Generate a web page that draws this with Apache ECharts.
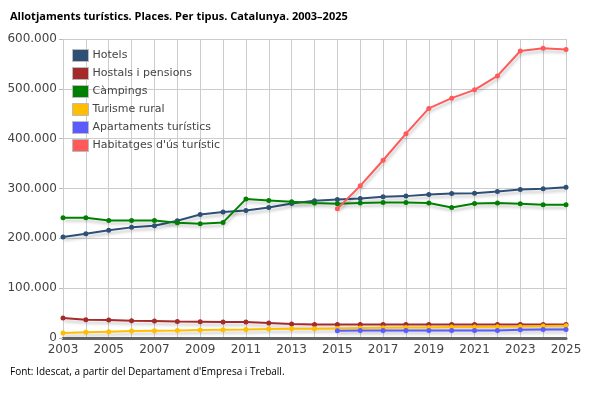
<!DOCTYPE html>
<html lang="ca">
<head>
<meta charset="UTF-8">
<title>Allotjaments turístics</title>
<script src="https://cdn.jsdelivr.net/npm/echarts@6/dist/echarts.min.js"></script>
<style>
  html, body { margin: 0; padding: 0; background: #fff; }
  #chart { width: 600px; height: 400px; }
</style>
</head>
<body>
<div id="chart"></div>
<script>
var years = ['2003','2004','2005','2006','2007','2008','2009','2010','2011','2012','2013','2014',
             '2015','2016','2017','2018','2019','2020','2021','2022','2023','2024','2025'];

var hotels = [202700, 209300, 216000, 222000, 225300, 235300, 248000, 252700, 256000, 262000, 270000, 275300,
              278000, 280000, 283300, 284700, 288000, 290000, 290700, 294000, 298000, 299300, 302700];
var hostals = [40000, 36700, 36000, 34700, 34000, 33300, 32700, 32000, 32000, 30000, 28000, 27300,
               27000, 27000, 27000, 27000, 27000, 27000, 27000, 27000, 27000, 27300, 27300];
var campings = [241300, 241300, 236000, 236000, 236000, 231300, 229300, 232000, 278700, 276000, 273300, 270700,
                269300, 270700, 272000, 272000, 270700, 262000, 270000, 270700, 269300, 267300, 267300];
var rural = [10000, 11300, 12700, 14000, 14700, 15300, 16000, 16700, 17300, 18000, 18700, 18700,
             19300, 20000, 20700, 21300, 21300, 22000, 22000, 22700, 23300, 24000, 24700];
var apartaments = [null, null, null, null, null, null, null, null, null, null, null, null,
                   14700, 15300, 15300, 15300, 15300, 15300, 15300, 15300, 16700, 17300, 17300];
var habitatges = [null, null, null, null, null, null, null, null, null, null, null, null,
                  259300, 305300, 356700, 410000, 460700, 481300, 498000, 526000, 576000, 581300, 578700];

var names = ['Hotels', 'Hostals i pensions', 'Càmpings', 'Turisme rural', 'Apartaments turístics', "Habitatges d'ús turístic"];
var colors = ['#2e5077', '#a52a2a', '#008000', '#ffbf00', '#5b5bff', '#ff5a5a'];
var values = [hotels, hostals, campings, rural, apartaments, habitatges];

var chart = echarts.init(document.getElementById('chart'));

function fmt(v) {
    return String(v).replace(/\B(?=(\d{3})+(?!\d))/g, '.');
}

var series = values.map(function (d, i) {
    return {
        name: names[i],
        type: 'line',
        data: d,
        symbol: 'circle',
        symbolSize: 5,
        showAllSymbol: true,
        color: colors[i],
        lineStyle: {
            width: 2,
            color: colors[i],
            shadowColor: 'rgba(0,0,0,0.22)',
            shadowBlur: 3,
            shadowOffsetX: 1,
            shadowOffsetY: 3
        },
        itemStyle: { color: colors[i] },
        animation: false
    };
});

chart.setOption({
    color: colors,
    title: {
        text: 'Allotjaments turístics. Places. Per tipus. Catalunya. 2003–2025',
        left: 5,
        top: 6,
        textStyle: { fontFamily: 'Open Sans', fontSize: 11, fontWeight: 'bold', color: '#000' }
    },
    graphic: [{
        type: 'text',
        left: 10,
        top: 367,
        style: {
            text: "Font: Idescat, a partir del Departament d'Empresa i Treball.",
            font: '10px "Open Sans"',
            fill: '#000'
        }
    }],
    legend: {
        orient: 'vertical',
        left: 67,
        top: 44,
        itemWidth: 16,
        itemHeight: 12,
        itemGap: 5,
        icon: 'rect',
        itemStyle: { borderColor: '#bbb', borderWidth: 1 },
        textStyle: { fontFamily: 'DejaVu Sans', fontSize: 11, color: '#444', padding: [0, 0, 0, -1] },
        data: names
    },
    grid: { left: 63, right: 34, top: 39, bottom: 62 },
    xAxis: {
        type: 'category',
        data: years,
        boundaryGap: false,
        axisLine: { lineStyle: { color: '#666', width: 3 } },
        axisTick: { show: false },
        axisLabel: {
            interval: 1,
            fontFamily: 'DejaVu Sans',
            fontSize: 12,
            color: '#444',
            margin: 6
        },
        splitLine: { show: true, interval: 0, lineStyle: { color: '#ccc', width: 1 } }
    },
    yAxis: {
        type: 'value',
        min: 0,
        max: 600000,
        interval: 100000,
        axisLine: { show: false },
        axisTick: { show: true, length: 4, lineStyle: { color: '#bbb' } },
        axisLabel: {
            fontFamily: 'DejaVu Sans',
            fontSize: 12,
            color: '#444',
            margin: 6,
            formatter: fmt
        },
        splitLine: { lineStyle: { color: '#ccc', width: 1 } }
    },
    series: series
});
</script>
</body>
</html>
